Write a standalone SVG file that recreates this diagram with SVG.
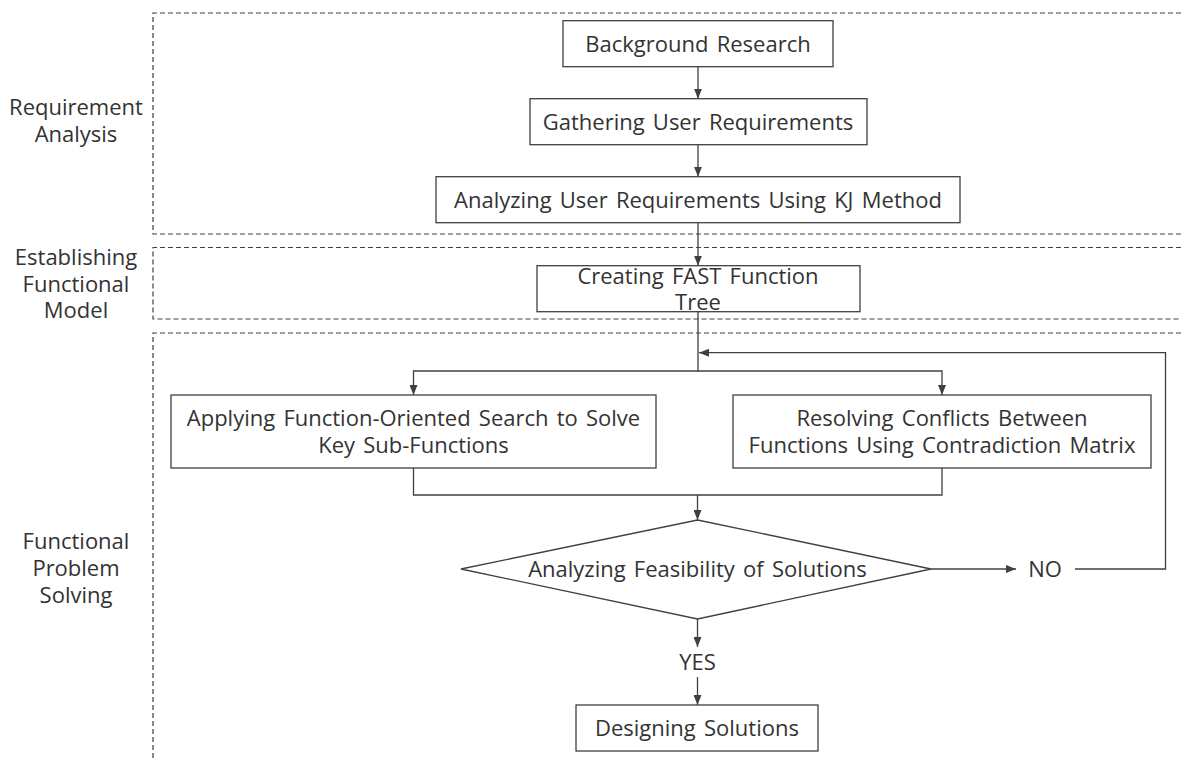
<svg xmlns="http://www.w3.org/2000/svg" width="1181" height="758" viewBox="0 0 1181 758">
<style>
.lane{fill:none;stroke:#404040;stroke-width:1.2;stroke-dasharray:5 3}
.box{fill:#fff;stroke:#404040;stroke-width:1.3}
.t{font-family:"Open Sans","Noto Sans",sans-serif;font-size:22px;fill:#333;text-anchor:middle;word-spacing:2.5px}
.c{fill:none;stroke:#404040;stroke-width:1.3}
</style>
<defs>
<marker id="ah" markerUnits="userSpaceOnUse" markerWidth="10" markerHeight="8" refX="10" refY="4" orient="auto">
<path d="M0,0 L10,4 L0,8 z" fill="#404040"/>
</marker>
</defs>
<rect width="1181" height="758" fill="#fff"/>
<g id="lanes">
<path class="lane" d="M1181,13 H153 V234 H1181"/>
<path class="lane" d="M1181,247.5 H153 V319 H1181"/>
<path class="lane" d="M1181,333 H153 V758"/>
<text class="t" x="76" y="115">Requirement</text>
<text class="t" x="76" y="142">Analysis</text>
<text class="t" x="76" y="265">Establishing</text>
<text class="t" x="76" y="292">Functional</text>
<text class="t" x="76" y="318">Model</text>
<text class="t" x="76" y="549">Functional</text>
<text class="t" x="76" y="576">Problem</text>
<text class="t" x="76" y="603">Solving</text>
</g>
<g id="connectors">
<path class="c" d="M698,66.7 V98.7" marker-end="url(#ah)"/>
<path class="c" d="M698,144.7 V176.7" marker-end="url(#ah)"/>
<path class="c" d="M698,222.7 V265.7" marker-end="url(#ah)"/>
<path class="c" d="M698,311.7 V371 H413.5 V395" marker-end="url(#ah)"/>
<path class="c" d="M698,371 H942 V395" marker-end="url(#ah)"/>
<path class="c" d="M413.5,468 V495 H942 V468"/>
<path class="c" d="M697.5,495 V520" marker-end="url(#ah)"/>
<path class="c" d="M931,569 H1016" marker-end="url(#ah)"/>
<path class="c" d="M1075,569 H1165.5 V352.7 H699" marker-end="url(#ah)"/>
<path class="c" d="M697.5,619 V647" marker-end="url(#ah)"/>
<path class="c" d="M697.5,677 V705" marker-end="url(#ah)"/>
<text class="t" x="1045" y="576.5">NO</text>
<text class="t" x="697.5" y="669.5">YES</text>
</g>
<g id="n1"><rect class="box" x="563" y="20.7" width="270" height="46"/><text class="t" x="698" y="51.5">Background Research</text></g>
<g id="n2"><rect class="box" x="530" y="98.7" width="337" height="46"/><text class="t" x="698" y="129.5">Gathering User Requirements</text></g>
<g id="n3"><rect class="box" x="436" y="176.7" width="524" height="46"/><text class="t" x="698" y="207.5">Analyzing User Requirements Using KJ Method</text></g>
<g id="n4"><rect class="box" x="537" y="265.7" width="323" height="46"/><text class="t" x="698" y="283.5">Creating FAST Function</text><text class="t" x="698" y="309.5">Tree</text></g>
<g id="n5"><rect class="box" x="171" y="395" width="485" height="73"/><text class="t" x="413.5" y="426">Applying Function-Oriented Search to Solve</text><text class="t" x="413.5" y="452.5">Key Sub-Functions</text></g>
<g id="n6"><rect class="box" x="733" y="395" width="418" height="73"/><text class="t" x="942" y="426">Resolving Conflicts Between</text><text class="t" x="942" y="452.5">Functions Using Contradiction Matrix</text></g>
<g id="n7"><polygon class="box" points="697.5,520 931,569 697.5,619 461,569"/><text class="t" x="697.5" y="576.5">Analyzing Feasibility of Solutions</text></g>
<g id="n8"><rect class="box" x="576" y="705" width="242" height="46"/><text class="t" x="697" y="735.5">Designing Solutions</text></g>
</svg>
